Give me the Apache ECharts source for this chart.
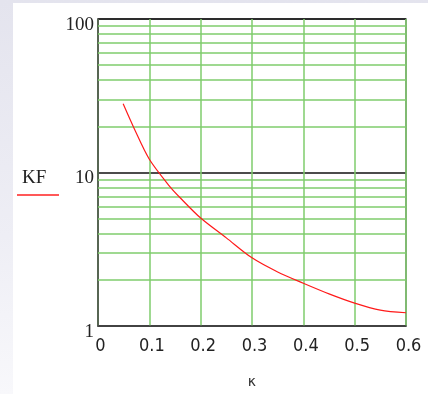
<!DOCTYPE html>
<html>
<head>
<meta charset="utf-8">
<script src="https://cdn.jsdelivr.net/npm/echarts@6/dist/echarts.min.js"></script>
<style>
  html, body { margin: 0; padding: 0; }
  body { width: 428px; height: 394px; position: relative; overflow: hidden;
         background: linear-gradient(180deg, #e4e4ee 0%, #eeeef5 60%, #f8f8fb 100%); }
  #paper { position: absolute; left: 13px; top: 3px; right: 0; bottom: 0; background: #fff; }
  #kfChart { position: absolute; left: 0; top: 0; width: 428px; height: 394px; }
</style>
</head>
<body>
<div id="paper"></div>
<div id="kfChart"></div>
<script>
// kappa values and KF
const kappa = [0.049, 0.07, 0.1, 0.14, 0.16, 0.2, 0.25, 0.3, 0.35, 0.4, 0.45, 0.5, 0.55, 0.6]
const kf = [28, 19.5, 12.2, 8.1, 6.85, 5.05, 3.75, 2.78, 2.25, 1.9, 1.62, 1.41, 1.27, 1.22]
// minor log grid lines
const minorLines = [2, 3, 4, 5, 6, 7, 8, 9, 20, 30, 40, 50, 60, 70, 80, 90]
const yTicks = [1, 10, 100]

const green = '#7fcd6c'

let option = {
  backgroundColor: 'rgba(0,0,0,0)',
  animation: false,
  grid: {
    left: 98,
    top: 19,
    width: 308,
    height: 313,
    show: true,
    borderColor: '#5a5a5a',
    borderWidth: 1.5
  },
  xAxis: {
    type: 'value',
    min: 0,
    max: 0.6,
    interval: 0.1,
    name: 'κ',
    nameLocation: 'middle',
    nameGap: 49,
    nameTextStyle: { fontFamily: 'DejaVu Sans', fontSize: 14, color: '#333' },
    axisLine: { show: true, lineStyle: { color: '#4a4a4a', width: 1.5 } },
    axisTick: { show: false },
    axisLabel: {
      margin: 11,
      padding: [0, 0, 0, 5],
      fontFamily: '"Liberation Sans Narrow", "DejaVu Sans Condensed", sans-serif',
      fontSize: 18,
      color: '#222',
      formatter: v => (v === 0 ? '0' : v.toFixed(1))
    },
    splitLine: { show: true, lineStyle: { color: green, width: 1.5 } }
  },
  yAxis: {
    type: 'log',
    logBase: 10,
    min: 1,
    max: 100,
    axisLine: { show: true, lineStyle: { color: '#4a4a4a', width: 1.5 } },
    axisTick: { show: false },
    axisLabel: {
      margin: 4,
      verticalAlign: 'top',
      lineHeight: 12,
      fontFamily: '"Liberation Serif", serif',
      fontSize: 19,
      color: '#222',
      formatter: v => (yTicks.indexOf(Math.round(v)) >= 0 ? String(Math.round(v)) : '')
    },
    splitLine: { show: true, lineStyle: { color: '#111', width: 1.5 } }
  },
  graphic: [
    {
      type: 'text',
      left: 22,
      top: 169,
      style: { text: 'KF', font: '19px "Liberation Serif", serif', fill: '#222' }
    },
    {
      type: 'line',
      shape: { x1: 17, y1: 195, x2: 59, y2: 195 },
      style: { stroke: '#ff2020', lineWidth: 1.5 }
    }
  ],
  series: [
    {
      name: 'grid',
      type: 'line',
      data: [],
      silent: true,
      z: 1,
      markLine: {
        silent: true,
        symbol: 'none',
        label: { show: false },
        lineStyle: { color: green, width: 1.5, type: 'solid' },
        data: minorLines.map(v => ({ yAxis: v }))
      }
    },
    {
      name: 'KF',
      type: 'line',
      smooth: 0.3,
      showSymbol: false,
      z: 5,
      lineStyle: { color: '#ff1a1a', width: 1.2 },
      data: kappa.map((k, i) => [k, kf[i]])
    }
  ]
}

const chart = echarts.init(document.getElementById('kfChart'))
chart.setOption(option)
</script>
</body>
</html>
